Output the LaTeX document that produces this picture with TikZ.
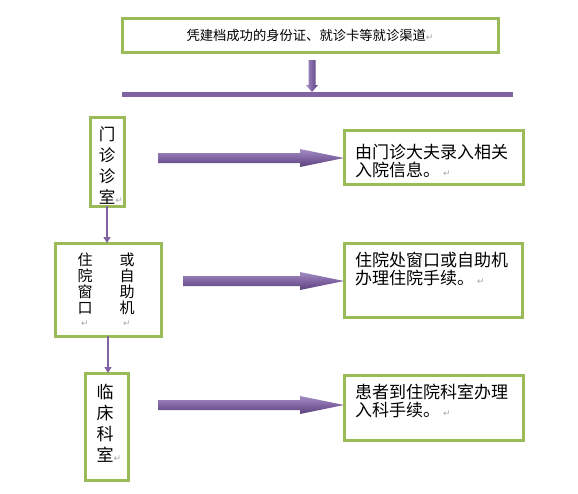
\documentclass[tikz,border=0pt]{standalone}
\usepackage{fontspec}
\newfontfamily\cjk{Noto Sans CJK SC}
\newfontfamily\dv{DejaVu Sans}
\usetikzlibrary{calc,arrows.meta}
\definecolor{boxgreen}{HTML}{9BBB59}
\definecolor{arpurple}{HTML}{8064A2}
\definecolor{arlight}{HTML}{A28DC4}
\definecolor{ardark}{HTML}{5A437C}
\newcommand{\retmark}{{\dv\fontsize{9}{9}\selectfont\color{gray!70}↵}}
% horizontal block arrow: #1 start, #2 tip (y of start used)
\newcommand{\harrow}[2]{%
  \shade[top color=arlight, bottom color=ardark, middle color=arpurple]
  let \p1=(#1), \p2=(#2) in
  (\x1,{\y1+5pt}) -- ({\x2-44pt},{\y1+5pt}) -- ({\x2-44pt},{\y1+9pt}) -- (\x2,\y1)
  -- ({\x2-44pt},{\y1-9pt}) -- ({\x2-44pt},{\y1-5pt}) -- (\x1,{\y1-5pt}) -- cycle;}
% vertical block arrow: #1 start, #2 tip (x of start used)
\newcommand{\varrow}[2]{%
  \shade[left color=arlight, right color=ardark, middle color=arpurple]
  let \p1=(#1), \p2=(#2) in
  ({\x1-3.5pt},\y1) -- ({\x1-3.5pt},{\y2+7pt}) -- ({\x1-6pt},{\y2+7pt}) -- (\x1,\y2)
  -- ({\x1+6pt},{\y2+7pt}) -- ({\x1+3.5pt},{\y2+7pt}) -- ({\x1+3.5pt},\y1) -- cycle;}
\begin{document}
\begin{tikzpicture}[x=1pt,y=-1pt,
  gbox/.style={draw=boxgreen, line width=3pt, fill=white, rectangle, inner sep=0pt, outer sep=0pt},
  rtxt/.style={inner sep=0pt, anchor=north west, align=left, font=\cjk\fontsize{17}{18.5}\selectfont},
  vtxt/.style={inner sep=0pt, align=center},
  conn/.style={draw=arpurple, line width=1.3pt, -{Triangle[width=7pt,length=6pt]}}]
\useasboundingbox (0,0) rectangle (578,493);
\fill[white] (0,0) rectangle (578,493);

% top box and bar
\node[gbox, minimum width=376, minimum height=34, font=\cjk\fontsize{13.3}{15}\selectfont]
  (top) at (310,35) {凭建档成功的身份证、就诊卡等就诊渠道\retmark};
\node[fill=arpurple, minimum width=391, minimum height=5, inner sep=0pt, outer sep=0pt]
  (bar) at (317.5,94.5) {};
\coordinate (tops) at (312,60);
\varrow{tops}{tops |- bar.north}

% left column boxes
\node[gbox, minimum width=34, minimum height=89] (mz) at (107,161.5) {};
\node[vtxt, font=\cjk\fontsize{16.5}{21}\selectfont] (mzt) at (107,165.5)
  {门\\诊\\诊\\室\rlap{\retmark}};

\node[gbox, minimum width=106, minimum height=93] (zy) at (108,289.5) {};
\node[vtxt, anchor=north, font=\cjk\fontsize{15}{16}\selectfont] (zyl) at (85,252.5)
  {住\\院\\窗\\口\\[-3pt]\retmark};
\node[vtxt, anchor=north, font=\cjk\fontsize{15}{16}\selectfont] (zyr) at (127,252.5)
  {或\\自\\助\\机\\[-3pt]\retmark};

\node[gbox, minimum width=43, minimum height=107] (lc) at (106.5,426.5) {};
\node[vtxt, font=\cjk\fontsize{17}{21}\selectfont] (lct) at (105,423.5)
  {临\\床\\科\\室\rlap{\retmark}};

\draw[conn] (mz.south) -- (mz.south |- zy.north);
\draw[conn] (zy.south) -- (zy.south |- lc.north);

% right boxes
\node[gbox, minimum width=179, minimum height=54] (ba) at (433.5,157) {};
\node[rtxt] (bat) at ($(ba.north west)+(11,13.5)$) {由门诊大夫录入相关\\入院信息。\,\retmark};
\node[gbox, minimum width=178, minimum height=74] (bb) at (433,280) {};
\node[rtxt] (bbt) at ($(bb.north west)+(11,8.5)$) {住院处窗口或自助机\\办理住院手续。\,\retmark};
\node[gbox, minimum width=179, minimum height=65] (bc) at (433.5,407.5) {};
\node[rtxt] (bct) at ($(bc.north west)+(11,8.5)$) {患者到住院科室办理\\入科手续。\,\retmark};

% big arrows
\coordinate (a1) at (158,158);
\coordinate (a2) at (183,281);
\coordinate (a3) at (158,405);
\harrow{a1}{ba.west}
\harrow{a2}{bb.west}
\harrow{a3}{bc.west}
\end{tikzpicture}
\end{document}
